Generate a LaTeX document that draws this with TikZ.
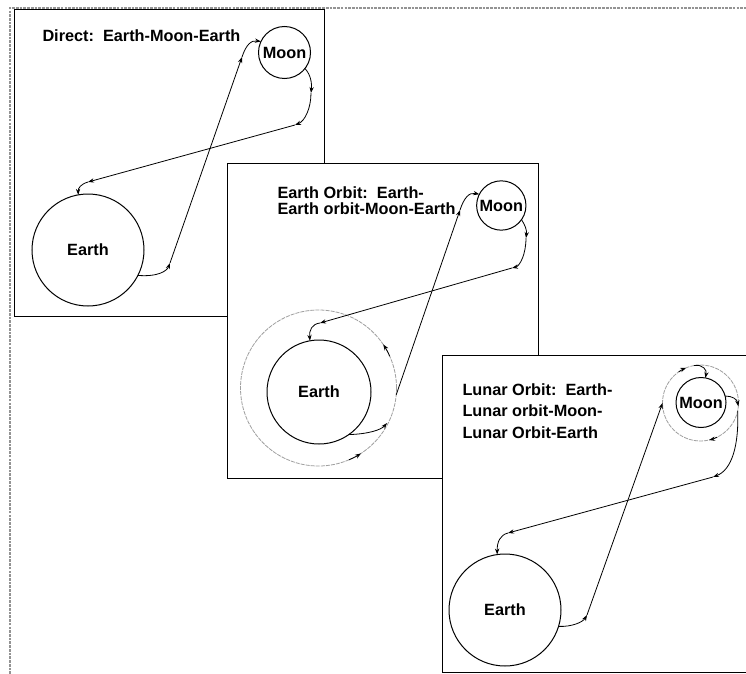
\documentclass[tikz,border=0pt]{standalone}
\usepackage{fontspec}
\setmainfont{Liberation Sans}
\usetikzlibrary{arrows.meta}

\tikzset{every picture/.style={line width=0.75pt}}

\begin{document}
\begin{tikzpicture}[x=0.75pt,y=0.75pt,yscale=-1,xscale=1,
    panel/.style={draw=black,fill=white,line width=0.75pt},
    body/.style={draw,circle,inner sep=0pt,outer sep=0pt,font=\bfseries\fontsize{12.2}{14}\selectfont},
    orbit/.style={draw=gray!75,circle,inner sep=0pt,outer sep=0pt,line width=0.6pt,dash pattern=on 3pt off 0.8pt},
    trk/.style={-{Stealth[length=4.5pt,width=3.2pt]},line width=0.6pt},
    caption/.style={anchor=north west,inner sep=0pt,align=left,font=\bfseries\fontsize{12.2}{#1}\selectfont},
    caption/.default=14]
    \useasboundingbox (0,0) rectangle (746,674);

    %Outer frame
    \draw [gray!85,line width=1.5pt,dash pattern=on 2pt off 0.8pt] (10,674) -- (10,8) -- (746,8) ;

    %Panel: Direct
    \draw [panel] (14,10) rectangle (324,316) ;
    % Text Node
    \node [caption] (txtA) at (42,29.5) {Direct:\ \ Earth-Moon-Earth};
    %Shape: Circle
    \node [body,minimum size=84pt] (earthA) at (88,250) {Earth};
    %Shape: Circle
    \node [body,minimum size=39pt] (moonA) at (284.5,52.5) {Moon};
    \coordinate (a1) at (170,263);
    \coordinate (a2) at (242,57);
    \coordinate (a3) at (311,93);
    \coordinate (a4) at (295,125);
    \coordinate (a5) at (88,182);
    %Curve Lines
    \draw [trk] (earthA.-27) .. controls (158,277) and (167,271) .. (a1) ;
    \draw [trk] (a1) -- (a2) ;
    \draw [trk] (a2) .. controls (246,45) and (251,40) .. (moonA.155) ;
    \draw [trk] (moonA.-38) .. controls (311,75) and (312,84) .. (a3) ;
    \draw [trk] (a3) .. controls (311,108) and (305,121) .. (a4) ;
    \draw [trk] (a4) -- (a5) ;
    \draw [trk] (a5) .. controls (81,184) and (78,188) .. (earthA.100) ;

    %Panel: Earth orbit
    \draw [panel] (227,163) rectangle (538,478) ;
    % Text Node
    \node [caption=12.4] (txtB) at (277,186) {Earth Orbit:\ \ Earth-\\Earth orbit-Moon-Earth};
    %Shape: Circle
    \node [orbit,minimum size=117pt] (orbitB) at (318.5,388) {};
    \node [body,minimum size=78pt] (earthB) at (319,392) {Earth};
    \node [body,minimum size=37pt] (moonB) at (501.3,205.5) {Moon};
    \coordinate (b1) at (387,423);
    \coordinate (b2) at (460,210);
    \coordinate (b3) at (526,238);
    \coordinate (b4) at (512,268);
    \coordinate (b5) at (320,323);
    %Curve Lines
    \draw [trk] (earthB.-55) .. controls (368,434) and (381,430) .. (b1) ;
    \draw [trk] (orbitB.center) ++(-24:78) arc [start angle=-24,end angle=-34,radius=78] ;
    \draw [trk] (orbitB.center) ++(67:78) arc [start angle=67,end angle=57,radius=78] ;
    \draw [trk] (orbitB.-5) -- (b2) ;
    \draw [trk] (b2) .. controls (464,198) and (469,192) .. (moonB.153) ;
    \draw [trk] (moonB.-35) .. controls (525,225) and (527,230) .. (b3) ;
    \draw [trk] (b3) .. controls (526,254) and (520,266) .. (b4) ;
    \draw [trk] (b4) -- (b5) ;
    \draw [trk] (b5) .. controls (312,324) and (309,330) .. (earthB.100) ;

    %Panel: Lunar orbit
    \draw [panel] (442,355) rectangle (750,672) ;
    % Text Node
    \node [caption=16.1] (txtC) at (462,383) {Lunar Orbit:\ \ Earth-\\Lunar orbit-Moon-\\Lunar Orbit-Earth};
    %Shape: Circle
    \node [orbit,minimum size=57pt] (orbitC) at (700.5,403) {};
    \node [body,minimum size=37.5pt] (moonC) at (701,402.5) {Moon};
    \node [body,minimum size=84pt] (earthC) at (505,610) {Earth};
    \coordinate (c1) at (587,615);
    \coordinate (c2) at (713,477);
    \coordinate (c3) at (508,533);
    %Curve Lines
    \draw [trk] (earthC.-17) .. controls (572,627) and (583,622) .. (c1) ;
    \draw [trk] (c1) -- (orbitC.180) ;
    \draw [trk] (orbitC.center) ++(-125:38) arc [start angle=-125,end angle=-112,radius=38] ;
    \draw [trk] (orbitC.100) .. controls (703,364) and (707,370) .. (moonC.80) ;
    \draw [trk] (moonC.15) .. controls (732,396) and (737,399) .. (orbitC.-5) ;
    \draw [trk] (orbitC.center) ++(64:38) arc [start angle=64,end angle=77,radius=38] ;
    \draw [trk] (orbitC.-12) .. controls (739,445) and (732,470) .. (c2) ;
    \draw [trk] (c2) -- (c3) ;
    \draw [trk] (c3) .. controls (500,535) and (497,542) .. (earthC.98) ;

\end{tikzpicture}
\end{document}
